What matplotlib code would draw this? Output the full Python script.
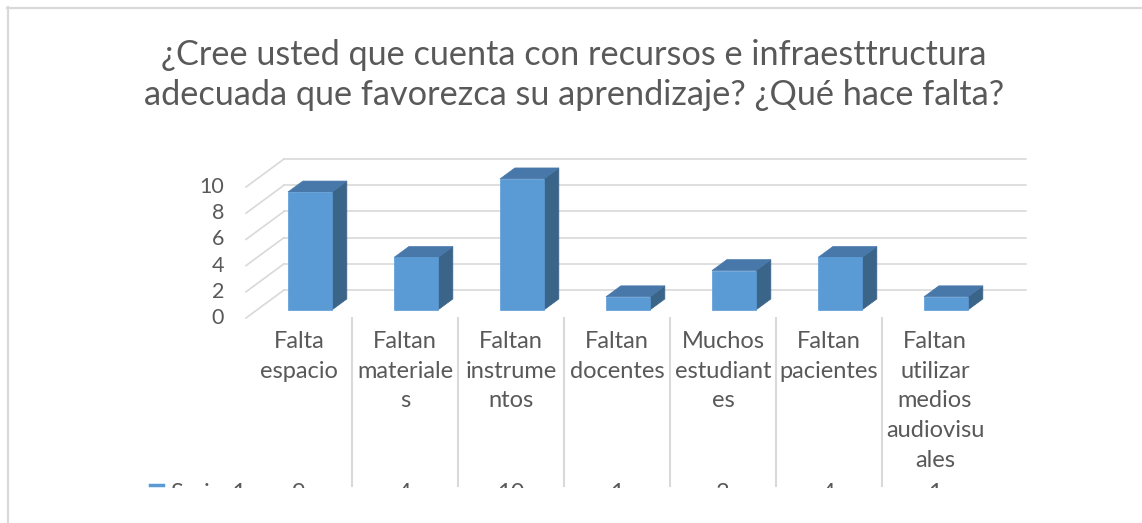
import matplotlib
matplotlib.use("Agg")
import matplotlib.pyplot as plt
from matplotlib.patches import Polygon, Rectangle
from matplotlib.lines import Line2D
from matplotlib.transforms import blended_transform_factory

# data
categories = ["Falta\nespacio", "Faltan\nmateriale\ns", "Faltan\ninstrume\nntos",
              "Faltan\ndocentes", "Muchos\nestudiant\nes", "Faltan\npacientes",
              "Faltan\nutilizar\nmedios\naudiovisu\nales"]
values = [9, 4, 10, 1, 3, 4, 1]
y_ticks = [0, 2, 4, 6, 8, 10]
series_name = "Series1"
title_lines = ["¿Cree usted que cuenta con recursos e infraesttructura",
               "adecuada que favorezca su aprendizaje? ¿Qué hace falta?"]

W, H = 1142, 523
TXT = "#595959"
GRID = "#d9d9d9"
FRONT, TOP, SIDE = "#5b9bd5", "#4878aa", "#3b6489"
CAT_FS = 17

plt.rcParams['font.family'] = ['Lato', 'DejaVu Sans']

fig = plt.figure(figsize=(W / 100, H / 100), dpi=100)
fig.patch.set_facecolor("white")

# axes: x in category units, y in value units (front plane)
ax_l, ax_r, ax_b, ax_t = 246, 988, 318, 187
ax = fig.add_axes([ax_l / W, (H - ax_b) / H, (ax_r - ax_l) / W, (ax_b - ax_t) / H])
n = len(values)
ax.set_xlim(-0.5, n - 0.5)
ax.set_ylim(0, 10)
ax.axis("off")

# depth offsets (full depth) in data units
px_x = (ax_r - ax_l) / n
px_y = (ax_b - ax_t) / 10
DX = 38 / px_x
DY = 28 / px_y

# walls / gridlines
for t in y_ticks:
    ax.plot([-0.5, -0.5 + DX], [t, t + DY], color=GRID, lw=1.2, clip_on=False, zorder=1)
    ax.plot([-0.5 + DX, n - 0.5 + DX], [t + DY, t + DY], color=GRID, lw=1.2,
            clip_on=False, zorder=1)
    ax.text(-0.5 - 22 / px_x, t, str(t), ha="right", va="center", fontsize=15.5,
            color=TXT)

# 3d bars
d0, d1 = 0.29, 0.68
bw = 0.415
for i, v in enumerate(values):
    xl = i - bw / 2 + d0 * DX
    xr = i + bw / 2 + d0 * DX
    y0 = d0 * DY
    ox, oy = (d1 - d0) * DX, (d1 - d0) * DY
    side = Polygon([(xr, y0), (xr + ox, y0 + oy), (xr + ox, y0 + oy + v), (xr, y0 + v)],
                   closed=True, facecolor=SIDE, edgecolor=SIDE, lw=0.5, zorder=3,
                   clip_on=False)
    top = Polygon([(xl, y0 + v), (xr, y0 + v), (xr + ox, y0 + oy + v), (xl + ox, y0 + oy + v)],
                  closed=True, facecolor=TOP, edgecolor=TOP, lw=0.5, zorder=3,
                  clip_on=False)
    ax.add_patch(side)
    ax.add_patch(top)
ax.bar([i + d0 * DX for i in range(n)], values, width=bw, bottom=d0 * DY,
       color=FRONT, edgecolor=FRONT, lw=0.5, zorder=4, clip_on=False)

# data table
tr = blended_transform_factory(ax.transData, fig.transFigure)
for i in range(n - 1):
    ax.plot([i + 0.5, i + 0.5], [(H - 318) / H, (H - 486) / H], color=GRID, lw=1.5,
            transform=tr, clip_on=False)
line_step = 29.7
for i, lab in enumerate(categories):
    for k, part in enumerate(lab.split("\n")):
        ax.text(i, (H - 348 - k * line_step) / H, part, transform=tr, ha="center",
                va="baseline", fontsize=CAT_FS, color=TXT)
    ax.text(i, (H - 500) / H, str(values[i]), transform=tr, ha="center",
            va="baseline", fontsize=CAT_FS, color=TXT)
fig.text(170 / W, (H - 500) / H, series_name, ha="left", va="baseline",
         fontsize=CAT_FS, color=TXT)
fig.lines.append(Line2D([150 / W, 163 / W], [(H - 485) / H] * 2, color=FRONT, lw=2.5,
                        transform=fig.transFigure))

# chart is cut off at the bottom
fig.patches.append(Rectangle((9 / W, 0), 1, (H - 488) / H, transform=fig.transFigure,
                             facecolor="white", edgecolor="none", zorder=10))

# title
fig.text(574 / W, (H - 65) / H, title_lines[0], ha="center", va="baseline",
         fontsize=24.7, color=TXT)
fig.text(574 / W, (H - 105) / H, title_lines[1], ha="center", va="baseline",
         fontsize=24.7, color=TXT)

# chart border (left and top)
fig.lines.append(Line2D([7.5 / W, 7.5 / W], [0, (H - 7) / H], color=GRID, lw=1.6,
                        transform=fig.transFigure, zorder=11))
fig.lines.append(Line2D([7 / W, 1], [(H - 7.5) / H] * 2, color=GRID, lw=1.6,
                        transform=fig.transFigure, zorder=11))

fig.savefig("out.png", dpi=100)
